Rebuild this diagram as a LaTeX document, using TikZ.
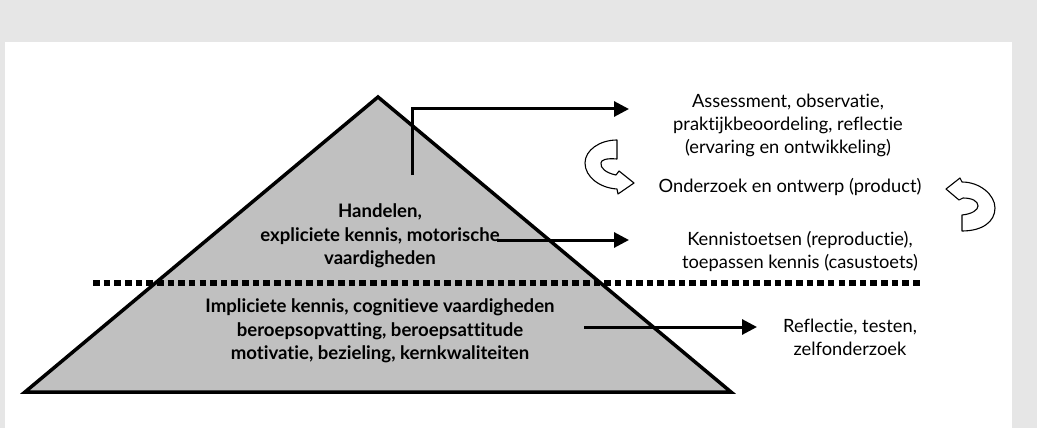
\documentclass[tikz,border=0pt]{standalone}
\usepackage{fontspec}
\setmainfont{Lato}[Ligatures=NoCommon]
\usetikzlibrary{arrows.meta}
\definecolor{bggray}{HTML}{E6E6E6}
\definecolor{pyrgray}{HTML}{C0C0C0}
\tikzset{
  reg/.style={align=center,inner sep=0pt,font=\fontsize{18.3}{23}\selectfont},
  boldtxt/.style={align=center,inner sep=0pt,font=\bfseries\fontsize{18.6}{23.5}\selectfont},
  arr/.style={line width=3pt,-{Triangle[length=15pt,width=15pt]}},
  curvarr/.style={draw=black,fill=white,line width=1.1pt,line join=round},
}
\begin{document}
\begin{tikzpicture}[x=1pt,y=-1pt]
\useasboundingbox (0,0) rectangle (1037,428);
\fill[bggray] (0,0) rectangle (1037,428);
\fill[white] (5,42) rectangle (1012,428);
% pyramid
\draw[fill=pyrgray,line width=3.5pt,line join=miter] (25,392) -- (378,97) -- (731,392) -- cycle;
% dotted separator
\draw[line width=5.5pt,dash pattern=on 6.6pt off 4.05pt] (93,283) -- (919.6,283);
% texts inside pyramid
\node[boldtxt] (top) at (380,236) {Handelen,\\expliciete kennis, motorische\\vaardigheden};
\node[boldtxt] (bottom) at (380,331) {Impliciete kennis, cognitieve vaardigheden\\beroepsopvatting, beroepsattitude\\motivatie, bezieling, kernkwaliteiten};
% texts right
\node[reg] (assess) at (788,125) {Assessment, observatie,\\praktijkbeoordeling, reflectie\\(ervaring en ontwikkeling)};
\node[reg] (onderzoek) at (790,187) {Onderzoek en ontwerp (product)};
\node[reg] (kennis) at (800,251) {Kennistoetsen (reproductie),\\toepassen kennis (casustoets)};
\node[reg] (reflectie) at (850,337.5) {Reflectie, testen,\\zelfonderzoek};
% connector coordinates
\coordinate (a1s) at (412.5,175);
\coordinate (a1c) at (412.5,109);
\coordinate (a1e) at (629,109);
\coordinate (a2s) at (497,240);
\coordinate (a2e) at (629,240);
\coordinate (a3s) at (584,327);
\coordinate (a3e) at (757,327);
\draw[line width=2.2pt] (a1s) -- (a1c);
\draw[arr] ([xshift=-1.1pt]a1c) -- (a1e);
\draw[arr] (a2s) -- (a2e);
\draw[arr] (a3s) -- (a3e);
% curved hollow arrows
\draw[curvarr] (617,140) .. controls (600,140) and (585,150) .. (585,163)
  .. controls (585,177) and (600,188) .. (617,189) -- (618,194) -- (634,183) -- (619,171) -- (616,175)
  .. controls (606,173) and (600,168) .. (601,163) .. controls (601,160) and (606,158) .. (617,159) -- cycle;
\draw[curvarr] (962,182) .. controls (980,182) and (995,195) .. (995,208)
  .. controls (995,222) and (982,231) .. (962,231) -- (962,215)
  .. controls (972,214) and (978,210) .. (978,206) .. controls (978,201) and (972,198) .. (963,198)
  -- (959,200) -- (946,189) -- (960,178) -- cycle;
\end{tikzpicture}
\end{document}
